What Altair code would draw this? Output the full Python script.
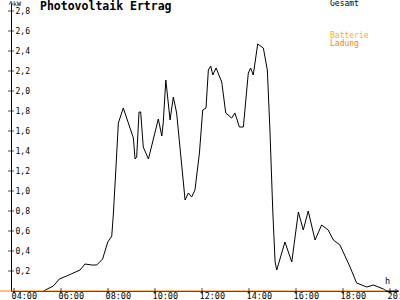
import altair as alt
import pandas as pd

# Gesamt (kW) over time of day (hours)
hours = [5.25, 5.67, 5.93, 6.24, 6.81, 7.02, 7.31, 7.52, 7.77, 7.99, 8.16, 8.23, 8.34,
         8.44, 8.65, 9.08, 9.15, 9.22, 9.32, 9.39, 9.50, 9.72, 10.14, 10.29, 10.35,
         10.46, 10.64, 10.78, 10.92, 11.28, 11.42, 11.56, 11.70, 11.89, 12.03, 12.17,
         12.27, 12.37, 12.46, 12.60, 12.84, 13.01, 13.26, 13.40, 13.59, 13.76, 13.97,
         14.07, 14.18, 14.37, 14.61, 14.78, 14.89, 15.01, 15.11, 15.18, 15.53, 15.82,
         16.10, 16.31, 16.52, 16.81, 17.09, 17.37, 17.59, 17.87, 18.30, 18.58, 19.01,
         19.29, 19.72, 19.86]
gesamt = [0.00, 0.05, 0.12, 0.15, 0.21, 0.27, 0.26, 0.26, 0.32, 0.49, 0.55, 0.78, 1.24,
          1.68, 1.83, 1.53, 1.32, 1.34, 1.79, 1.79, 1.44, 1.32, 1.72, 1.55, 1.68,
          2.11, 1.71, 1.94, 1.78, 0.91, 0.98, 0.94, 1.01, 1.38, 1.81, 1.83,
          2.21, 2.25, 2.16, 2.23, 2.09, 1.78, 1.73, 1.78, 1.64, 1.64, 2.18,
          2.23, 2.16, 2.47, 2.43, 2.21, 1.61, 0.81, 0.29, 0.21, 0.49, 0.29,
          0.79, 0.61, 0.80, 0.51, 0.66, 0.61, 0.51, 0.46, 0.24, 0.08, 0.04,
          0.06, 0.02, 0.00]

# Batterie Ladung (kW)
bat_hours = [3.40, 19.82]
bat_values = [0.0, 0.0]

x_ticks = [4, 6, 8, 10, 12, 14, 16, 18, 20]
y_ticks = [0.2, 0.4, 0.6, 0.8, 1.0, 1.2, 1.4, 1.6, 1.8, 2.0, 2.2, 2.4, 2.6, 2.8]

title_text = "Photovoltaik Ertrag"
legend_items = ["Gesamt", "Batterie", "Ladung"]
legend_colors = ["#000000", "#ffb000", "#ff8000"]

W, H = 387, 288
x_domain = [3.872, 20.34]
y_domain = [0, 2.88]
FONT = "DejaVu Sans Mono"

df = pd.DataFrame({"h": hours, "v": gesamt})
bat = pd.DataFrame({"h": bat_hours, "v": bat_values})
xt = pd.DataFrame({"h": x_ticks})
yt = pd.DataFrame({"v": y_ticks})

xs = alt.Scale(domain=x_domain, nice=False, zero=False)
ys = alt.Scale(domain=y_domain, nice=False)

xaxis = alt.Axis(values=x_ticks, ticks=False, grid=False, domainColor="black",
                 labelExpr="(datum.value < 10 ? '0' : '') + datum.value + ':00'",
                 labelAlign="left", labelBaseline="alphabetic", labelPadding=7,
                 labelOffset=-3,
                 labelFont=FONT, labelFontSize=8.5, labelColor="black",
                 title=None, labelOverlap=False, labelBound=False, labelFlush=False)
yaxis = alt.Axis(values=y_ticks, ticks=False, grid=False, domainColor="black",
                 labelExpr="replace(format(datum.value, '.1f'), '.', ',')",
                 labelAlign="left", labelPadding=-4, labelBaseline="middle",
                 labelFont=FONT, labelFontSize=8, labelColor="black",
                 title=None, labelOverlap=False, labelBound=False, labelFlush=False)

line = alt.Chart(df).mark_line(color="black", strokeWidth=1).encode(
    x=alt.X("h:Q", scale=xs, axis=xaxis),
    y=alt.Y("v:Q", scale=ys, axis=yaxis),
)

batline = alt.Chart(bat).mark_line(color="#ff8000", strokeWidth=1.2).encode(
    x=alt.X("h:Q", scale=xs, axis=xaxis),
    y=alt.Y("v:Q", scale=ys, axis=yaxis),
)

xtick_marks = alt.Chart(xt).mark_tick(color="black", size=6, thickness=1,
                                      orient="vertical").encode(
    x=alt.X("h:Q", scale=xs, axis=xaxis), y=alt.value(H))
ytick_marks = alt.Chart(yt).mark_tick(color="black", size=6, thickness=1,
                                      orient="horizontal").encode(
    y=alt.Y("v:Q", scale=ys, axis=yaxis), x=alt.value(0))

up_arrow = alt.Chart(pd.DataFrame({"a": [0]})).mark_point(
    shape="M-1,1L0,-1L1,1", filled=False, color="black", size=12, strokeWidth=1
).encode(x=alt.value(0), y=alt.value(0))
right_arrow = alt.Chart(pd.DataFrame({"a": [0]})).mark_point(
    shape="M-1,-1L1,0L-1,1", filled=False, color="black", size=12, strokeWidth=1
).encode(x=alt.value(W - 1), y=alt.value(H))
xaxis_ext = alt.Chart(pd.DataFrame({"a": [0]})).mark_rule(color="black").encode(
    x=alt.value(W - 12), x2=alt.value(W), y=alt.value(H))

def label(text, x, y, color="black", size=8, weight="normal", baseline="middle"):
    return alt.Chart(pd.DataFrame({"t": [text]})).mark_text(
        font=FONT, fontSize=size, fontWeight=weight, color=color,
        align="left", baseline=baseline
    ).encode(text="t:N", x=alt.value(x), y=alt.value(y))

title = label(title_text, 29, 4, size=11.5, weight="bold")
kw = label("kW", 2, 1, size=6.5)
hlab = label("h", 374, 278, size=8.5)
leg = [label(legend_items[0], 319, 1, legend_colors[0]),
       label(legend_items[1], 319, 33, legend_colors[1]),
       label(legend_items[2], 319, 41, legend_colors[2])]

chart = alt.layer(
    line, xaxis_ext, batline, xtick_marks, ytick_marks, up_arrow, right_arrow,
    title, kw, hlab, *leg
).properties(
    width=W, height=H,
    autosize=alt.AutoSizeParams(type="none"),
    padding={"left": 11, "top": 3, "right": 2, "bottom": 9},
    background="white",
).configure_view(stroke=None)

chart.save("out.html", embed_options={"renderer": "svg", "actions": False})
